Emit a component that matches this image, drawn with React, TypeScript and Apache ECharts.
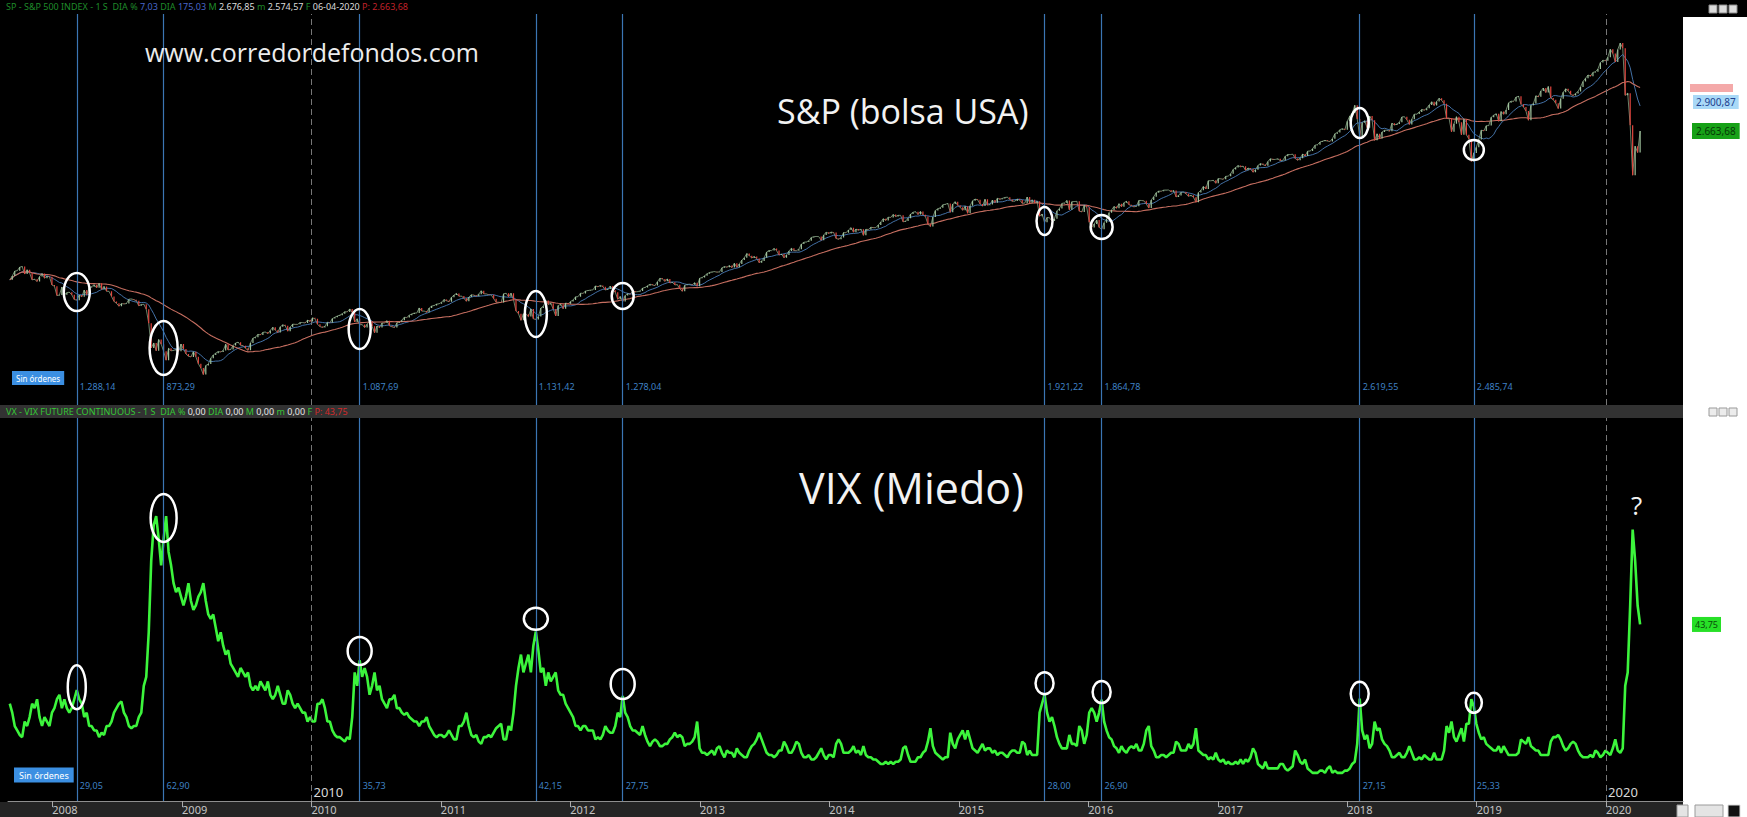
import React, { useEffect, useRef } from 'react';
import * as echarts from 'echarts';

// ---------- DATA (weekly closes) ----------
const spx2007 = [1453,1484,1525,1527,1557,1561,1500,1535,1509,1453,1458,1440,1481,1504,1467,1484,1478,1411];
const spx2008 = [1401,1325,1330,1395,1331,1349,1353,1331,1293,1288,1330,1316,1370,1332,1390,1398,1413,1388,1425,1375,1400,1360,1360,1318,1278,1262,1239,1260,1257,1260,1296,1298,1292,1283,1242,1252,1255,1213,1100,899,940,877,968,930,873,800,896,876,879,887,872,931];
const spx2009 = [890,850,832,826,869,827,770,735,683,756,768,816,842,857,870,866,878,929,883,887,919,940,946,921,918,896,880,940,979,987,1010,1005,1026,1029,1016,1042,1068,1044,1025,1071,1087,1080,1036,1069,1093,1091,1091,1106,1106,1102,1126,1115];
const spx2010 = [1144,1136,1091,1073,1066,1075,1109,1104,1138,1149,1159,1166,1178,1194,1192,1217,1187,1111,1136,1088,1089,1065,1092,1117,1076,1022,1078,1065,1102,1102,1121,1079,1071,1065,1104,1110,1125,1149,1146,1166,1176,1183,1183,1225,1199,1199,1189,1224,1240,1244,1256,1258];
const spx2011 = [1271,1293,1283,1276,1311,1329,1343,1320,1321,1304,1279,1313,1332,1328,1320,1337,1364,1340,1338,1333,1331,1300,1271,1271,1268,1340,1344,1316,1345,1292,1199,1178,1124,1177,1174,1154,1216,1136,1131,1155,1224,1238,1285,1253,1263,1216,1159,1244,1255,1219,1265,1258];
const spx2012 = [1278,1289,1315,1316,1345,1343,1362,1366,1370,1371,1404,1397,1408,1398,1370,1378,1403,1369,1353,1295,1318,1278,1325,1343,1335,1362,1355,1357,1363,1386,1391,1405,1418,1411,1407,1438,1466,1460,1441,1461,1428,1433,1412,1414,1380,1360,1409,1416,1418,1413,1430,1402,1466];
const spx2013 = [1472,1486,1503,1513,1518,1520,1516,1518,1551,1561,1556,1569,1553,1588,1555,1583,1614,1633,1667,1650,1631,1643,1626,1593,1606,1632,1680,1692,1691,1709,1691,1655,1663,1633,1655,1688,1710,1692,1690,1703,1744,1759,1762,1771,1798,1804,1806,1805,1775,1818,1841,1831];
const spx2014 = [1842,1838,1790,1783,1797,1838,1836,1859,1878,1841,1866,1857,1865,1815,1864,1863,1881,1878,1878,1900,1924,1950,1937,1963,1961,1985,1968,1978,1978,1925,1931,1955,1988,2003,2008,1985,2010,1982,1968,1906,1887,1965,2018,2032,2039,2064,2068,2075,2003,2071,2089,2059];
const spx2015 = [2044,2019,2051,1995,2055,2097,2110,2105,2071,2053,2108,2061,2067,2102,2081,2117,2108,2116,2123,2126,2107,2092,2094,2110,2102,2076,2077,2127,2080,2104,2078,2092,1971,1989,1921,1961,1958,1931,1951,2015,2033,2075,2079,2099,2023,2089,2090,2092,2012,2006,2061,2044];
const spx2016 = [1922,1880,1907,1940,1880,1865,1918,1948,2000,2022,2050,2036,2073,2048,2081,2092,2065,2057,2047,2052,2099,2099,2096,2071,2037,2103,2130,2162,2175,2174,2183,2184,2184,2169,2180,2128,2139,2165,2168,2153,2133,2141,2126,2085,2164,2182,2213,2192,2260,2259,2263,2239];
const spx2017 = [2277,2275,2271,2295,2297,2316,2351,2367,2383,2373,2378,2344,2363,2355,2329,2349,2384,2399,2391,2382,2416,2439,2432,2433,2438,2423,2425,2459,2473,2472,2476,2441,2426,2443,2477,2461,2500,2502,2519,2549,2553,2575,2581,2588,2582,2579,2602,2642,2652,2675,2683,2674];
const spx2018 = [2743,2786,2810,2873,2762,2620,2732,2747,2691,2786,2752,2588,2641,2604,2656,2670,2670,2663,2728,2713,2721,2735,2779,2780,2755,2718,2760,2801,2802,2819,2840,2833,2850,2875,2902,2872,2905,2930,2914,2886,2767,2768,2659,2723,2781,2736,2633,2760,2633,2600,2417,2486,2532];
const spx2019 = [2596,2671,2665,2707,2708,2776,2793,2804,2743,2822,2800,2834,2893,2907,2905,2940,2946,2881,2860,2826,2752,2873,2887,2950,2942,2990,3014,2977,3026,2932,2919,2889,2847,2926,2979,3007,2992,2962,2952,2970,2986,3023,3067,3093,3120,3110,3141,3146,3169,3221,3240,3235];
const spx2020 = [3265,3330,3295,3226,3328,3380,3338,2954,2972,2711,2305,2541,2489,2664];

const vix2007 = [26,24,21,20,19,18.5,22,21,23,26,25,27,23,21,23,22,21,24];
const vix2008 = [25,27,28,25,27,25,24,25,27,29.05,27,26,23,24,21,21,20,20,18.5,19.5,19,21,21,22,24,25,26,26.5,24,23,21,20.5,21,21,23,24,30,32,42,58,66,68,63,57,62.9,68,60,57,53,51,52,50];
const vix2009 = [48,50,53,49,47,48,50,51,53,49,46,45,46,43,40,42,39,37,38,35,34,33,32,34,33,32,33,30,29,30,29,31,30,29,31,28,27,28,30,28,26,26,29,28,26,25,26,25,24,24,22,23];
const vix2010 = [22,22,26,26,27,25,22,22,20,19,18.5,18.5,18,17.5,18.5,18,23,33,30,35.73,32,34,32,28,30,33,29,30,27,26,25,27,27,28,25,25,24,23.5,24,23,22.5,22,22,21,22,22,23,21,20,19,18.5,19];
const vix2011 = [19,18.5,19,20,19,18,18,21,21,22,24,21,19,18.5,19,17.5,17,18.5,18.5,19,18.5,19.5,20.5,21,21.5,18,18,21,20,24,30,34,37,33,35,37,33,39,42.15,38,33,34,30,33,31,32,33,29,28,28,26,25];
const vix2012 = [24,23,21,21,20,21,21,20,20,20,18,18.5,18,19,21,20,19.5,19.5,21,24,23,27.75,24,23,21,20,20,19.5,19,21,19,17.5,16.5,17.5,18,17.5,16.5,16.5,17,17,18,18.5,19.5,18.5,19,18.5,16.5,17,17,17.5,18.5,22,16];
const vix2013 = [15,15,14.5,15,15.5,14.5,16,16.5,15,14,15.5,15,15,14,16,15,14.5,14,14,15.5,16.5,17,18,19.5,18,16.5,15,14.5,14.5,14,14.5,15.5,15.5,17.5,16.5,15,15,16,17.5,17,15,14,14,14.5,13.5,13.5,14,15,16,14.5,13.5,14.5];
const vix2014 = [14.5,14,17,18,17,15,15,15,15.5,16.5,15,15.5,14.5,16.5,14.5,14,14,13.5,13.5,13,12.5,12.5,13,12.5,13,12.5,13,13,13.5,16,16.5,14.5,13,13,13,14,14,15,15.5,17.5,20.5,16.5,15,14.5,14,13.5,14,14,19.5,17,16,18];
const vix2015 = [19,20,18,20,18,16,15.5,15,16,17,15.5,16,16,15,15.5,14.5,15,15,14.5,14,15,15.5,15.5,15,15,17.5,17,14.5,15.5,14.5,14.5,14.5,24,26,28,24,22,23,21,18.5,17,16,16,16,19,17,17,16.5,21,20,17,19];
const vix2016 = [24,25,24,22,24,26.9,22,20,18.5,18,16.5,16,15,16.5,15.5,15,16,16.5,16,17,15.5,15.5,17,20,21,16.5,15.5,14,14,14.5,14.5,14,14.5,15,15,17.5,17,15.5,15.5,15.5,17,16,17,20.5,15.5,15,14.5,14.5,13.5,14,13.5,15];
const vix2017 = [13.5,13,13.5,12.5,13,12.5,12.5,13,12.5,13.5,12.5,13.5,13,14,16,15,12.5,12,11.5,13,11.5,11.5,11.5,11.5,11.5,12.5,12.5,11.5,11,11.5,12,15.5,14.5,13,12.5,13.5,11.5,11,10.5,10.5,10.5,11,11,10.5,11.5,12,10.5,11,10.5,10.5,10.5,11];
const vix2018 = [11,11.5,12.5,13,17,27.15,20,18,19,16,17,22,20,20.5,18,17,16.5,15.5,14,14,14.5,15,14,14,15,16.5,15,13.5,13.5,14,13.5,14.5,14,13.5,13.5,15,13.5,13.5,13.5,15.5,21,19.5,22,18.5,17.5,19,20.5,17.5,21.5,21.5,27,25.33,21.5];
const vix2019 = [19.5,18,18.5,17,16.5,16,15.5,15.5,16.5,15,16.5,15.5,14.5,14.5,14.5,14.5,15,18,17.5,17,18.5,16.5,16,15.5,15.5,14.5,14.5,14.5,14.5,17.5,18.5,18.5,19,18,16.5,15.5,16,17,17.5,17,15.5,14.5,14,14,14,14.5,14,15.5,15,14,14.5,15.5];
const vix2020 = [15,14.5,16,18,15.5,15,16,30,33,48,65,58,48,43.75];

const years = [2007,2008,2009,2010,2011,2012,2013,2014,2015,2016,2017,2018,2019,2020];
const spxByYear = [spx2007,spx2008,spx2009,spx2010,spx2011,spx2012,spx2013,spx2014,spx2015,spx2016,spx2017,spx2018,spx2019,spx2020];
const vixByYear = [vix2007,vix2008,vix2009,vix2010,vix2011,vix2012,vix2013,vix2014,vix2015,vix2016,vix2017,vix2018,vix2019,vix2020];

// event weeks (blue lines) and their labels
const eventDates = ['2008-03-10','2008-11-10','2010-05-17','2011-09-26','2012-05-28','2015-08-31','2016-02-08','2018-02-05','2018-12-24'];
const spxEventLabels = ['1.288,14','873,29','1.087,69','1.131,42','1.278,04','1.921,22','1.864,78','2.619,55','2.485,74'];
const vixEventLabels = ['29,05','62,90','35,73','42,15','27,75','28,00','26,90','27,15','25,33'];
const spxCircleValues = [1354, 899, 1053, 1175, 1322, 1932, 1883, 2729, 2510];
const vixCircleValues = [29.7, 67.6, 37.8, 45.0, 30.4, 30.6, 28.6, 28.2, 26.2];
const dashedDates = ['2010-01-01','2020-01-01'];
const dashedLabels = ['2010','2020'];

// price tags on the right scale
const tagBlue = { value: 2900.87, text: '2.900,87' };
const tagGreen = { value: 2663.68, text: '2.663,68' };
const tagRed = { value: 3014 };
const tagVix = { value: 43.75, text: '43,75' };

// ---------- annotation geometry ----------
const spxCircleR = [[13,19],[14,27],[11,20],[11,23],[11,13],[8,14],[11,12],[9,15],[10,10]];
const vixCircleR = [[9,22],[13,24],[12,14],[12,11],[12,15],[9,11],[9,11],[9,12],[8,10]];

const DAY = 86400000;
const ts = (s: string) => Date.parse(s + 'T00:00:00Z');
function firstMonday(year: number): number {
  if (year === 2007) return Date.UTC(2007, 8, 3);
  let t = Date.UTC(year, 0, 1);
  while (new Date(t).getUTCDay() !== 1) t += DAY;
  return t;
}

const weeks: number[] = [];
const spxClose: number[] = [];
const vixClose: number[] = [];
years.forEach((y, i) => {
  const t0 = firstMonday(y);
  spxByYear[i].forEach((v, k) => {
    weeks.push(t0 + k * 7 * DAY);
    spxClose.push(v);
    vixClose.push(vixByYear[i][k]);
  });
});

function sma(arr: number[], n: number) {
  return arr.map((_, i) => {
    const s = Math.max(0, i - n + 1);
    let sum = 0;
    for (let j = s; j <= i; j++) sum += arr[j];
    return sum / (i - s + 1);
  });
}

const W = 1747, H = 817;
const FONT = "'Noto Sans', 'DejaVu Sans', sans-serif";
const TFONT = "'Open Sans', 'Noto Sans', sans-serif";

export default function App() {
  const ref = useRef<HTMLDivElement>(null);
  useEffect(() => {
    document.body.style.margin = '0';
    const chart = echarts.init(ref.current!, null, { renderer: 'svg' });

    const candles = weeks.map((t, i) => {
      const o = i > 0 ? spxClose[i - 1] : spxClose[i];
      const c = spxClose[i];
      return [t, o, c, Math.min(o, c), Math.max(o, c)];
    });
    const ma10 = sma(spxClose, 10);
    const ma40 = sma(spxClose, 40);

    const xMin = Date.UTC(2007, 7, 29);
    const xMax = Date.UTC(2020, 7, 5);

    const markLines = {
      silent: true,
      symbol: ['none', 'none'],
      label: { show: false },
      lineStyle: { color: '#3b76b4', width: 1.2, type: 'solid' as const },
      data: [
        ...eventDates.map((d) => ({ xAxis: ts(d) })),
        ...dashedDates.map((d) => ({ xAxis: ts(d), lineStyle: { color: '#777', width: 1, type: [6, 4] as any } })),
      ],
    };

    const yearFmt = (v: number) => {
      const d = new Date(v);
      return d.getUTCMonth() === 0 && d.getUTCDate() === 1 ? String(d.getUTCFullYear()) : '';
    };

    chart.setOption({
      animation: false,
      useUTC: true,
      backgroundColor: '#000',
      grid: [
        { left: 8, right: 64, top: 14, height: 391 },
        { left: 8, right: 64, top: 418, height: 383 },
      ],
      xAxis: [
        { type: 'time', gridIndex: 0, min: xMin, max: xMax, show: false, splitLine: { show: false } },
        {
          type: 'time', gridIndex: 1, min: xMin, max: xMax, splitNumber: 13,
          minInterval: 365 * DAY, maxInterval: 366 * DAY,
          splitLine: { show: false },
          axisLine: { show: true, lineStyle: { color: '#8e8e8e', width: 1 } },
          axisTick: { show: true, length: 6, lineStyle: { color: '#aaaaaa' } },
          axisLabel: { formatter: yearFmt, align: 'left', margin: 2, fontSize: 11, lineHeight: 12, color: '#c4c4c4', fontFamily: FONT, showMinLabel: false, showMaxLabel: false },
          z: 5,
        },
      ],
      yAxis: [
        { type: 'value', gridIndex: 0, min: 435, max: 3616, show: false, splitLine: { show: false } },
        { type: 'value', gridIndex: 1, min: 4.2, max: 90, show: false, splitLine: { show: false } },
      ],
      series: [
        {
          type: 'line', xAxisIndex: 0, yAxisIndex: 0, data: weeks.map((t, i) => [t, spxClose[i]]),
          showSymbol: false, lineStyle: { color: '#8fae8c', width: 1, opacity: 0.75 }, z: 3,
        },
        {
          type: 'candlestick', xAxisIndex: 0, yAxisIndex: 0, data: candles, barWidth: 2.4,
          encode: { x: 0, y: [1, 2, 3, 4] },
          itemStyle: { color: '#9fc29c', color0: '#e2453e', borderColor: '#9fc29c', borderColor0: '#e2453e', borderWidth: 1.2 },
          markLine: markLines,
          z: 4,
        },
        {
          type: 'line', xAxisIndex: 0, yAxisIndex: 0, data: weeks.map((t, i) => [t, ma10[i]]),
          showSymbol: false, lineStyle: { color: '#4a7db8', width: 1, opacity: 0.9 }, z: 3,
        },
        {
          type: 'line', xAxisIndex: 0, yAxisIndex: 0, data: weeks.map((t, i) => [t, ma40[i]]),
          showSymbol: false, lineStyle: { color: '#c66e60', width: 1.1 }, z: 3,
        },
        {
          type: 'line', xAxisIndex: 1, yAxisIndex: 1, data: weeks.map((t, i) => [t, vixClose[i]]),
          showSymbol: false, lineStyle: { color: '#3cf53c', width: 2.6 },
          markLine: markLines,
        },
      ],
    });

    const xOf = (t: number) => chart.convertToPixel({ xAxisIndex: 0 }, t) as number;
    const ySpx = (v: number) => chart.convertToPixel({ yAxisIndex: 0 }, v) as number;
    const yVix = (v: number) => chart.convertToPixel({ yAxisIndex: 1 }, v) as number;

    const g: any[] = [];
    // frame pieces (behind axes)
    g.push({ type: 'rect', shape: { x: 1683, y: 17, width: 64, height: 800 }, style: { fill: '#ffffff' }, z: -1 });
    g.push({ type: 'rect', shape: { x: 0, y: 405, width: 1683, height: 13 }, style: { fill: '#323232' }, z: -1 });
    g.push({ type: 'rect', shape: { x: 0, y: 802, width: 1683, height: 15 }, style: { fill: '#242424' }, z: -1 });
    [1709, 1719, 1729].forEach((x) => {
      g.push({ type: 'rect', shape: { x, y: 5, width: 8, height: 8 }, style: { fill: '#dcdcdc', stroke: '#8a8a8a', lineWidth: 1 }, z: 2 });
      g.push({ type: 'rect', shape: { x, y: 408, width: 8, height: 8 }, style: { fill: '#ececec', stroke: '#9a9a9a', lineWidth: 1 }, z: 2 });
    });
    g.push({ type: 'rect', shape: { x: 1677, y: 805, width: 11, height: 12 }, style: { fill: '#e4e4e4', stroke: '#9a9a9a' }, z: 2 });
    g.push({ type: 'rect', shape: { x: 1695, y: 805, width: 28, height: 12 }, style: { fill: '#e4e4e4', stroke: '#9a9a9a' }, z: 2 });
    g.push({ type: 'rect', shape: { x: 1728, y: 805, width: 12, height: 12 }, style: { fill: '#111', stroke: '#ddd' }, z: 2 });

    // headers
    g.push({
      type: 'text', x: 6, y: 6, z: 5,
      style: {
        text: '{g|SP - S&P 500 INDEX - 1 S  DIA %} {b|7,03} {g|DIA} {b|175,03} {g|M} {w|2.676,85} {g|m} {w|2.574,57} {g|F} {w|06-04-2020} {r|P: 2.663,68}',
        verticalAlign: 'middle', font: `9px ${FONT}`,
        rich: {
          g: { fill: '#1f8a2a', fontSize: 9, fontFamily: FONT },
          b: { fill: '#4866c8', fontSize: 9, fontFamily: FONT },
          w: { fill: '#dcdcdc', fontSize: 9, fontFamily: FONT },
          r: { fill: '#c0222a', fontSize: 9, fontFamily: FONT },
        },
      },
    });
    g.push({
      type: 'text', x: 6, y: 411.5, z: 5,
      style: {
        text: '{g|VX - VIX FUTURE CONTINUOUS - 1 S  DIA %} {w|0,00} {g|DIA} {w|0,00} {g|M} {w|0,00} {g|m} {w|0,00} {g|F} {r|P: 43,75}',
        verticalAlign: 'middle', font: `9px ${FONT}`,
        rich: {
          g: { fill: '#35c635', fontSize: 9, fontFamily: FONT },
          w: { fill: '#e6e6e6', fontSize: 9, fontFamily: FONT },
          r: { fill: '#d42a2a', fontSize: 9, fontFamily: FONT },
        },
      },
    });

    // titles
    g.push({ type: 'text', x: 145, y: 52, z: 20, style: { text: 'www.corredordefondos.com', fill: '#ececec', font: `25px ${TFONT}`, verticalAlign: 'middle' } });
    g.push({ type: 'text', x: 777, y: 111, z: 20, style: { text: 'S&P (bolsa USA)', fill: '#f2f2f2', font: `34px ${TFONT}`, verticalAlign: 'middle' } });
    g.push({ type: 'text', x: 799, y: 487, z: 20, style: { text: 'VIX (Miedo)', fill: '#f2f2f2', font: `43px ${TFONT}`, verticalAlign: 'middle' } });
    g.push({ type: 'text', x: 1631, y: 505, z: 20, style: { text: '?', fill: '#f2f2f2', font: `26px ${TFONT}`, verticalAlign: 'middle' } });

    // badges
    g.push({ type: 'text', x: 12, y: 378, z: 20, style: { text: 'Sin órdenes', fill: '#ffffff', font: `8px ${FONT}`, verticalAlign: 'middle', backgroundColor: '#3b8fe2', padding: [3, 4] } });
    g.push({ type: 'text', x: 14, y: 775, z: 20, style: { text: 'Sin órdenes', fill: '#ffffff', font: `9px ${FONT}`, verticalAlign: 'middle', backgroundColor: '#3b8fe2', padding: [3, 5] } });

    // event labels & circles
    eventDates.forEach((d, i) => {
      const x = xOf(ts(d));
      g.push({ type: 'text', x: x + 3, y: 386, z: 20, style: { text: spxEventLabels[i], fill: '#3f80c4', font: `9px ${FONT}`, verticalAlign: 'middle' } });
      g.push({ type: 'text', x: x + 3, y: 785, z: 20, style: { text: vixEventLabels[i], fill: '#3f80c4', font: `9px ${FONT}`, verticalAlign: 'middle' } });
      g.push({ type: 'ellipse', z: 30, shape: { cx: x, cy: ySpx(spxCircleValues[i]), rx: spxCircleR[i][0], ry: spxCircleR[i][1] }, style: { fill: 'none', stroke: '#ffffff', lineWidth: 2.5 } });
      g.push({ type: 'ellipse', z: 30, shape: { cx: x, cy: yVix(vixCircleValues[i]), rx: vixCircleR[i][0], ry: vixCircleR[i][1] }, style: { fill: 'none', stroke: '#ffffff', lineWidth: 2.5 } });
    });
    dashedDates.forEach((d, i) => {
      const x = xOf(ts(d));
      g.push({ type: 'text', x: x + 2, y: 792, z: 20, style: { text: dashedLabels[i], fill: '#d8d8d8', font: `13px ${FONT}`, verticalAlign: 'middle' } });
    });

    // price tags
    g.push({ type: 'rect', z: 6, shape: { x: 1690, y: ySpx(tagRed.value) - 4, width: 43, height: 8 }, style: { fill: '#f4a9a9' } });
    g.push({ type: 'text', x: 1693, y: ySpx(tagBlue.value), z: 7, style: { text: tagBlue.text, fill: '#1d3f8f', font: `10px ${FONT}`, verticalAlign: 'middle', backgroundColor: '#a9d9f7', padding: [2, 3] } });
    g.push({ type: 'text', x: 1692, y: ySpx(tagGreen.value), z: 7, style: { text: tagGreen.text, fill: '#063806', font: `10px ${FONT}`, verticalAlign: 'middle', backgroundColor: '#17a117', padding: [3, 4] } });
    g.push({ type: 'text', x: 1692, y: yVix(tagVix.value), z: 7, style: { text: tagVix.text, fill: '#0a4a0a', font: `9px ${FONT}`, verticalAlign: 'middle', backgroundColor: '#27e027', padding: [3, 3] } });

    chart.setOption({ graphic: { elements: g } });

    return () => chart.dispose();
  }, []);
  return <div ref={ref} style={{ width: W, height: H, background: '#000' }} />;
}
